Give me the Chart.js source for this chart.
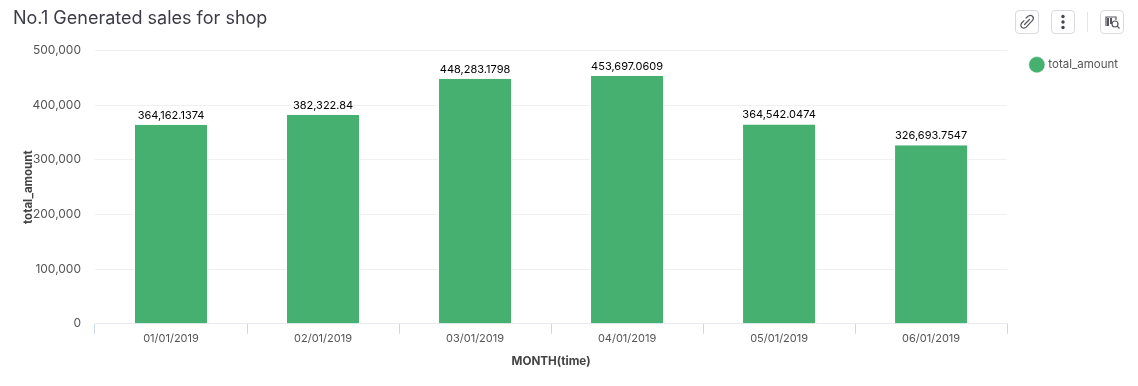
<!DOCTYPE html>
<html>
<head>
<meta charset="utf-8">
<script src="https://cdn.jsdelivr.net/npm/chart.js@4"></script>
<style>
  body { margin: 0; background: #fff; }
  #wrap { position: relative; width: 1138px; height: 386px; }
  .btn { position: absolute; top: 10px; width: 22px; height: 22px; border: 1px solid #d9d9de; border-radius: 4px; }
  .btn svg { display: block; width: 22px; height: 22px; }
  #sep { position: absolute; left: 1087px; top: 12px; width: 1px; height: 20px; background: #e4e4e8; }
</style>
</head>
<body>
<div id="wrap">
  <canvas id="salesChart" width="1138" height="386"></canvas>
  <div class="btn" style="left:1015px"><svg viewBox="0 0 22 22" fill="none" stroke="#55555f" stroke-width="1.2" stroke-linecap="round"><path d="M10 7l2.5-2a3 3 0 0 1 4.2 4.2l-6.5 7a3 3 0 0 1-4.5-4.2l2.3-2.4"/><path d="M8.5 13.5l5-5"/></svg></div>
  <div class="btn" style="left:1051px"><svg viewBox="0 0 22 22" fill="#44444e"><circle cx="11" cy="5.5" r="1.7"/><circle cx="11" cy="11" r="1.7"/><circle cx="11" cy="16.5" r="1.7"/></svg></div>
  <div id="sep"></div>
  <div class="btn" style="left:1100px"><svg viewBox="0 0 22 22" fill="none" stroke="#55555f" stroke-width="1.2"><path d="M5 15V6h10v3" /><path d="M7 7v8M10 7v6" stroke-width="2"/><circle cx="14" cy="13" r="3"/><path d="M16.2 15.2l2.3 2.3"/></svg></div>
</div>
<script>
const months = ['01/01/2019', '02/01/2019', '03/01/2019', '04/01/2019', '05/01/2019', '06/01/2019'];
const totalAmount = [364162.1374, 382322.84, 448283.1798, 453697.0609, 364542.0474, 326693.7547];
const fontName = 'Inter, sans-serif';

// value labels above the bars
const barLabels = {
  id: 'barLabels',
  afterDatasetsDraw(chart) {
    const ctx = chart.ctx;
    ctx.save();
    ctx.font = '11px ' + fontName;
    ctx.fillStyle = '#000';
    ctx.textAlign = 'center';
    ctx.textBaseline = 'bottom';
    chart.getDatasetMeta(0).data.forEach((bar, i) => {
      ctx.fillText(totalAmount[i].toLocaleString('en-US', { maximumFractionDigits: 4 }), bar.x, bar.y - 4);
    });
    ctx.restore();
  }
};

// the legend sits level with the top of the plot, not under the title
const legendShift = {
  id: 'legendShift',
  afterLayout(chart) {
    chart.legend.top += 35;
    chart.legend.bottom += 35;
  }
};

new Chart(document.getElementById('salesChart'), {
  type: 'bar',
  data: {
    labels: months,
    datasets: [{
      label: 'total_amount',
      data: totalAmount,
      backgroundColor: '#45b06f',
      borderColor: '#fff',
      borderWidth: { left: 1, right: 1, top: 0, bottom: 0 },
      barPercentage: 0.487,
      categoryPercentage: 1
    }]
  },
  options: {
    responsive: false,
    animation: false,
    layout: { padding: { left: 13, right: 10, bottom: 18 } },
    plugins: {
      title: {
        display: true,
        text: 'No.1 Generated sales for shop',
        align: 'start',
        color: '#3c3c46',
        font: { family: fontName, size: 18, weight: 'normal' },
        padding: { top: 8, bottom: 21 }
      },
      legend: {
        position: 'right',
        align: 'start',
        labels: {
          usePointStyle: true,
          pointStyle: 'circle',
          boxWidth: 12,
          boxHeight: 12,
          padding: 24,
          color: '#555',
          font: { family: fontName, size: 11.5 }
        }
      },
      tooltip: { enabled: false }
    },
    scales: {
      x: {
        grid: { drawOnChartArea: false, tickColor: '#ccd6eb', tickLength: 10 },
        border: { color: '#e6e9f2' },
        ticks: { color: '#555', font: { family: fontName, size: 11 }, padding: -2 },
        title: { display: true, text: 'MONTH(time)', color: '#444', font: { family: fontName, size: 11.7, weight: 'bold' }, padding: { top: 11, bottom: 0 } }
      },
      y: {
        min: 0,
        max: 500000,
        afterFit(scale) { scale.width = 82; },
        grid: { color: '#f0f0f0', drawTicks: false },
        border: { display: false },
        ticks: { stepSize: 100000, color: '#555', padding: 14, font: { family: fontName, size: 12 } },
        title: { display: true, text: 'total_amount', color: '#444', font: { family: fontName, size: 11.5, weight: 'bold' }, padding: { top: 9, bottom: 0 } }
      }
    }
  },
  plugins: [barLabels, legendShift]
});
</script>
</body>
</html>
